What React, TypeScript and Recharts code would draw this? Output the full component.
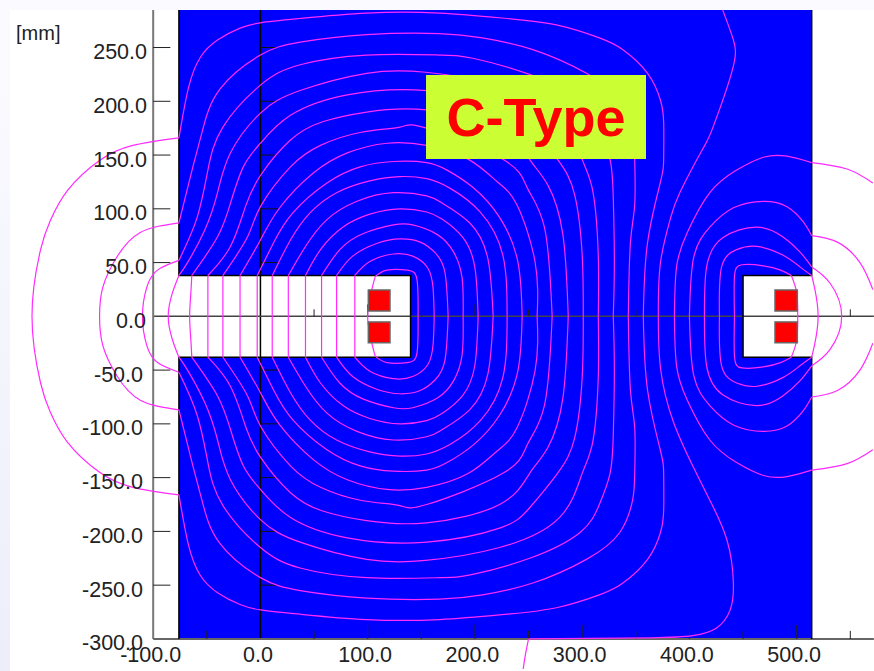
import { LineChart, Line, XAxis, YAxis, ReferenceArea, ReferenceLine } from 'recharts'

type Pt = number[]

const xTicks = [-100, 0, 100, 200, 300, 400, 500]
const yTicks = [250, 200, 150, 100, 50, 0, -50, -100, -150, -200, -250, -300]
const yMarks = [250, 200, 150, 100, 50, -50, -100, -150, -200, -250]
const bottomMinor = [-50, 50, 150, 250, 350, 450, 550]
const bottomMajor = [100, 200, 300, 400, 500]
const midMinor = [50, 150, 250, 350, 550]
const midMajor = [100, 200]

// field lines of the left loops, outer to inner (white part, then upper and lower part in the iron)
const loop1White: Pt[] = [[-76, 166], [-119, 159], [-150, 145], [-180, 117], [-196, 89], [-205, 62], [-213, 0], [-205, -62], [-196, -89], [-180, -117], [-150, -145], [-119, -159], [-76, -166]]
const loop1Top: Pt[] = [[-76, 166], [-67, 213], [-56, 241], [-40, 257], [-19, 268], [0, 273], [37, 277], [99, 282], [167, 282], [230, 277], [276, 271], [316, 259], [338, 248], [361, 226], [373, 201], [376, 180], [376, 148], [373, 125], [361, 69], [357, 0]]
const loop1Bottom: Pt[] = [[-76, -166], [-67, -213], [-56, -241], [-40, -257], [-19, -268], [0, -273], [37, -277], [99, -282], [167, -282], [230, -277], [276, -271], [316, -259], [338, -248], [361, -226], [373, -201], [376, -180], [376, -148], [373, -125], [361, -69], [357, 0]]
const loop2White: Pt[] = [[-76, 87], [-112, 78], [-134, 55], [-147, 27], [-150, 0], [-147, -27], [-134, -55], [-112, -78], [-76, -87]]
const loop2Top: Pt[] = [[-76, 87], [-63, 139], [-54, 173], [-38, 211], [0, 243], [37, 255], [99, 262], [167, 263], [207, 259], [254, 248], [304, 226], [335, 201], [347, 171], [349, 146], [349, 104], [345, 69], [343, 0]]
const loop2Bottom: Pt[] = [[-76, -87], [-63, -139], [-54, -173], [-38, -211], [0, -243], [37, -255], [99, -262], [167, -263], [207, -259], [254, -248], [304, -226], [335, -201], [347, -171], [349, -146], [349, -104], [345, -69], [343, 0]]
const loop3White: Pt[] = [[-76, 52], [-96, 43], [-106, 27], [-110, 0], [-106, -27], [-96, -43], [-76, -52]]
const loop3Top: Pt[] = [[-76, 52], [-59, 92], [-49, 136], [-35, 176], [0, 215], [37, 234], [99, 243], [167, 243], [198, 240], [251, 225], [298, 201], [316, 175], [326, 146], [329, 110], [330, 50], [329, 0]]
const loop3Bottom: Pt[] = [[-76, -52], [-59, -92], [-49, -136], [-35, -176], [0, -215], [37, -234], [99, -243], [167, -243], [198, -240], [251, -225], [298, -201], [316, -175], [326, -146], [329, -110], [330, -50], [329, 0]]
const loop4White: Pt[] = [[-76, 38], [-82, 22], [-86, 0], [-82, -22], [-76, -38]]
const loop4Top: Pt[] = [[-76, 38], [-68, 50], [-52, 80], [-40, 115], [-28, 152], [0, 189], [37, 210], [99, 226], [154, 227], [223, 215], [279, 187], [300, 146], [310, 116], [315, 57], [315, 0]]
const loop4Bottom: Pt[] = [[-76, -38], [-68, -50], [-52, -80], [-40, -115], [-28, -152], [0, -189], [37, -210], [99, -226], [154, -227], [223, -215], [279, -187], [300, -146], [310, -116], [315, -57], [315, 0]]
const loop5White: Pt[] = [[-64, 38], [-65, 20], [-66, 0], [-65, -20], [-64, -38]]
const loop5Top: Pt[] = [[-64, 38], [-40, 74], [-28, 105], [-16, 139], [0, 161], [28, 187], [81, 206], [155, 210], [223, 197], [251, 178], [277, 146], [293, 113], [300, 57], [301, 0]]
const loop5Bottom: Pt[] = [[-64, -38], [-40, -74], [-28, -105], [-16, -139], [0, -161], [28, -187], [81, -206], [155, -210], [223, -197], [251, -178], [277, -146], [293, -113], [300, -57], [301, 0]]
const loop6Top: Pt[] = [[-49, 38], [-28, 65], [-14, 102], [0, 131], [28, 164], [58, 181], [99, 190], [155, 192], [223, 175], [251, 146], [268, 122], [282, 76], [287, 0]]
const loop6Bottom: Pt[] = [[-49, -38], [-28, -65], [-14, -102], [0, -131], [28, -164], [58, -181], [99, -190], [155, -192], [223, -175], [251, -146], [268, -122], [282, -76], [287, 0]]
const loop7Top: Pt[] = [[-35, 38], [-12, 74], [0, 102], [28, 139], [56, 159], [93, 171], [130, 176], [155, 175], [226, 146], [249, 119], [265, 82], [272, 0]]
const loop7Bottom: Pt[] = [[-35, -38], [-12, -74], [0, -102], [28, -139], [56, -159], [93, -171], [130, -176], [155, -175], [226, -146], [249, -119], [265, -82], [272, 0]]
const loop8Top: Pt[] = [[-19, 38], [0, 71], [18, 101], [49, 133], [81, 152], [118, 161], [155, 159], [194, 146], [221, 125], [239, 104], [256, 51], [258, 0]]
const loop8Bottom: Pt[] = [[-19, -38], [0, -71], [18, -101], [49, -133], [81, -152], [118, -161], [155, -159], [194, -146], [221, -125], [239, -104], [256, -51], [258, 0]]
const loop9Top: Pt[] = [[-3, 38], [12, 68], [30, 96], [62, 124], [93, 139], [124, 144], [155, 143], [174, 136], [198, 120], [223, 92], [240, 51], [244, 0]]
const loop9Bottom: Pt[] = [[-3, -38], [12, -68], [30, -96], [62, -124], [93, -139], [124, -144], [155, -143], [174, -136], [198, -120], [223, -92], [240, -51], [244, 0]]
const loop10Top: Pt[] = [[11, 38], [28, 71], [46, 96], [71, 115], [102, 126], [130, 130], [155, 128], [177, 119], [205, 97], [226, 57], [230, 0]]
const loop10Bottom: Pt[] = [[11, -38], [28, -71], [46, -96], [71, -115], [102, -126], [130, -130], [155, -128], [177, -119], [205, -97], [226, -57], [230, 0]]
const loop11Top: Pt[] = [[26, 38], [42, 65], [62, 90], [90, 107], [124, 115], [155, 112], [170, 105], [195, 87], [212, 54], [217, 0]]
const loop11Bottom: Pt[] = [[26, -38], [42, -65], [62, -90], [90, -107], [124, -115], [155, -112], [170, -105], [195, -87], [212, -54], [217, 0]]
const loop12Top: Pt[] = [[42, 38], [56, 62], [77, 83], [102, 95], [130, 100], [155, 97], [170, 90], [189, 73], [200, 45], [203, 0]]
const loop12Bottom: Pt[] = [[42, -38], [56, -62], [77, -83], [102, -95], [130, -100], [155, -97], [170, -90], [189, -73], [200, -45], [203, 0]]
const loop13Top: Pt[] = [[57, 38], [74, 62], [96, 77], [124, 85], [142, 85], [165, 76], [180, 60], [188, 36], [189, 0]]
const loop13Bottom: Pt[] = [[57, -38], [74, -62], [96, -77], [124, -85], [142, -85], [165, -76], [180, -60], [188, -36], [189, 0]]
const loop14Top: Pt[] = [[71, 38], [86, 56], [109, 68], [130, 72], [149, 69], [163, 59], [172, 41], [175, 0]]
const loop14Bottom: Pt[] = [[71, -38], [86, -56], [109, -68], [130, -72], [149, -69], [163, -59], [172, -41], [175, 0]]
const loop15Top: Pt[] = [[88, 38], [102, 51], [124, 58], [142, 56], [156, 45], [161, 26], [162, 0]]
const loop15Bottom: Pt[] = [[88, -38], [102, -51], [124, -58], [142, -56], [156, -45], [161, -26], [162, 0]]
const loop16White: Pt[] = [[107, 37], [100, 0], [107, -37]]
const loop16Top: Pt[] = [[107, 37], [118, 43], [137, 43], [146, 34], [147, 0]]
const loop16Bottom: Pt[] = [[107, -37], [118, -43], [137, -43], [146, -34], [147, 0]]
const windowX = [-49, -35, -19, -3, 11, 26, 42, 57, 71, 88]

// field lines around the right coil
const lobeATop: Pt[] = [[442, 0], [442, 37], [449, 48], [469, 47], [485, 43], [495, 38]]
const lobeABottom: Pt[] = [[442, 0], [442, -37], [449, -48], [469, -47], [485, -43], [495, -38]]
const lobeAWhite: Pt[] = [[495, 38], [500, 22], [501, 0], [500, -22], [495, -38]]
const lobeBTop: Pt[] = [[428, 0], [430, 46], [444, 62], [463, 65], [487, 57], [503, 46], [514, 38]]
const lobeBBottom: Pt[] = [[428, 0], [430, -46], [444, -62], [463, -65], [487, -57], [503, -46], [514, -38]]
const lobeBWhite: Pt[] = [[514, 38], [517, 25], [520, 0], [517, -25], [514, -38]]
const lobeCTop: Pt[] = [[414, 0], [416, 46], [431, 73], [463, 83], [487, 74], [503, 60], [514, 46]]
const lobeCBottom: Pt[] = [[414, 0], [416, -46], [431, -73], [463, -83], [487, -74], [503, -60], [514, -46]]
const lobeCWhite: Pt[] = [[514, 46], [531, 31], [542, 0], [531, -31], [514, -46]]
const lobeDTop: Pt[] = [[400, 0], [404, 55], [419, 83], [441, 101], [469, 107], [491, 102], [506, 88], [514, 75]]
const lobeDBottom: Pt[] = [[400, 0], [404, -55], [419, -83], [441, -101], [469, -107], [491, -102], [506, -88], [514, -75]]
const lobeDWhiteTop: Pt[] = [[514, 75], [538, 69], [559, 50], [571, 25]]
const lobeDWhiteBottom: Pt[] = [[514, -75], [538, -69], [559, -50], [571, -25]]
const lobeETop: Pt[] = [[386, 0], [388, 46], [398, 78], [419, 115], [444, 136], [469, 148], [491, 149], [514, 143]]
const lobeEBottom: Pt[] = [[386, 0], [388, -46], [398, -78], [419, -115], [444, -136], [469, -148], [491, -149], [514, -143]]
const lobeEWhiteTop: Pt[] = [[514, 143], [547, 137], [571, 124]]
const lobeEWhiteBottom: Pt[] = [[514, -143], [547, -137], [571, -124]]
const splitTop: Pt[] = [[371, 0], [373, 50], [382, 90], [391, 115], [412, 155], [422, 176], [440, 229], [441, 257], [431, 285]]
const splitBottom: Pt[] = [[371, 0], [373, -48], [385, -98], [405, -143], [419, -171], [435, -208], [441, -248], [438, -273], [425, -290], [403, -297], [363, -299], [250, -300]]
const splitTail: Pt[] = [[250, -300], [247, -315], [245, -328]]

const outlineLeft: Pt[] = [[-76, 285], [-76, 38], [140, 38], [140, -38], [-76, -38], [-76, -300]]
const outlineRight: Pt[] = [[514, 285], [514, 38], [450, 38], [450, -38], [514, -38], [514, -300]]

const fieldLines: Pt[][] = [
  loop1White, loop1Top, loop1Bottom, loop2White, loop2Top, loop2Bottom, loop3White, loop3Top, loop3Bottom,
  loop4White, loop4Top, loop4Bottom, loop5White, loop5Top, loop5Bottom, loop6Top, loop6Bottom, loop7Top, loop7Bottom,
  loop8Top, loop8Bottom, loop9Top, loop9Bottom, loop10Top, loop10Bottom, loop11Top, loop11Bottom, loop12Top, loop12Bottom,
  loop13Top, loop13Bottom, loop14Top, loop14Bottom, loop15Top, loop15Bottom, loop16White, loop16Top, loop16Bottom,
  lobeATop, lobeABottom, lobeAWhite, lobeBTop, lobeBBottom, lobeBWhite, lobeCTop, lobeCBottom, lobeCWhite,
  lobeDTop, lobeDBottom, lobeDWhiteTop, lobeDWhiteBottom, lobeETop, lobeEBottom, lobeEWhiteTop, lobeEWhiteBottom,
  splitTop, splitBottom, splitTail,
  ...windowX.map((x) => [[x, 38], [x, 0], [x, -38]]),
]

const coilX = [[100.6, 120.8], [479.8, 500.6]]
const coilY = [[5, 24.5], [-24.5, -5.2]]

const toRows = (pts: Pt[]) => pts.map(([x, y]) => ({ x, y }))
const FONT = '"Liberation Sans", Arial, sans-serif'
const MAGENTA = '#ff2bff'

function XLabel({ x, payload }: any) {
  return (
    <text x={x - 2.5} y={662} textAnchor="middle" fontFamily={FONT} fontSize={21.5} fill="#222">
      {payload.value.toFixed(1)}
    </text>
  )
}

function YLabel({ y, payload }: any) {
  const right = payload.value < 0 ? 143 : payload.value === 0 ? 146 : 147
  return (
    <text x={right} y={y + 11.5} textAnchor="end" fontFamily={FONT} fontSize={21.5} fill="#222">
      {payload.value.toFixed(1)}
    </text>
  )
}

export default function App() {
  return (
    <div style={{ position: 'absolute', left: 0, top: 0, width: 874, height: 671, overflow: 'hidden', background: 'linear-gradient(#fbfbff, #eeeefb)' }}>
      <div style={{ position: 'absolute', left: 10, top: 10, width: 864, height: 661, background: '#fff' }} />
      <div style={{ position: 'absolute', left: 16, top: 20, fontFamily: FONT, fontSize: 20, lineHeight: '26px', color: '#222' }}>[mm]</div>
      <div style={{ position: 'absolute', left: 0, top: 0 }}>
        <LineChart width={874} height={671} margin={{ top: 0, right: 0, bottom: 0, left: 0 }}>
          <XAxis
            type="number"
            dataKey="x"
            domain={[-241.9, 572.1]}
            allowDataOverflow
            ticks={xTicks}
            interval={0}
            height={1}
            axisLine={false}
            tickLine={false}
            tick={<XLabel />}
          />
          <YAxis
            type="number"
            domain={[-328.9, 294.2]}
            allowDataOverflow
            ticks={yTicks}
            interval={0}
            width={1}
            axisLine={false}
            tickLine={false}
            tick={<YLabel />}
          />

          <ReferenceArea x1={-76} x2={514} y1={38} y2={285} fill="#0000ff" fillOpacity={1} stroke="none" />
          <ReferenceArea x1={-76} x2={514} y1={-300} y2={-38} fill="#0000ff" fillOpacity={1} stroke="none" />
          <ReferenceArea x1={140} x2={450} y1={-40} y2={40} fill="#0000ff" fillOpacity={1} stroke="none" />

          <ReferenceLine segment={[{ x: 0, y: -300 }, { x: 0, y: 285 }]} stroke="#000" strokeWidth={1.5} />
          <ReferenceLine segment={[{ x: -100, y: 0 }, { x: 572, y: 0 }]} stroke="#444" strokeWidth={1.5} />
          <ReferenceLine segment={[{ x: -100, y: -300 }, { x: -100, y: 285 }]} stroke="#777" strokeWidth={2} />
          <ReferenceLine segment={[{ x: -100, y: -300 }, { x: 572, y: -300 }]} stroke="#666" strokeWidth={2} />
          {yMarks.map((v) => (
            <ReferenceLine key={`l${v}`} segment={[{ x: -100, y: v }, { x: -84, y: v }]} stroke="#222" />
          ))}
          {yMarks.map((v) => (
            <ReferenceLine key={`m${v}`} segment={[{ x: 0, y: v }, { x: 16, y: v }]} stroke="#111" />
          ))}
          {bottomMinor.map((v) => (
            <ReferenceLine key={`b${v}`} segment={[{ x: v, y: -300 }, { x: v, y: -292.5 }]} stroke="#222" />
          ))}
          {bottomMajor.map((v) => (
            <ReferenceLine key={`B${v}`} segment={[{ x: v, y: -300 }, { x: v, y: -287 }]} stroke="#222" />
          ))}
          {midMinor.map((v) => (
            <ReferenceLine key={`c${v}`} segment={[{ x: v, y: 0 }, { x: v, y: 6.5 }]} stroke="#222" />
          ))}
          {midMajor.map((v) => (
            <ReferenceLine key={`C${v}`} segment={[{ x: v, y: 0 }, { x: v, y: 11 }]} stroke="#222" />
          ))}

          <Line data={toRows(outlineLeft)} dataKey="y" type="linear" stroke="#000" strokeWidth={1.5} dot={false} activeDot={false} isAnimationActive={false} />
          <Line data={toRows(outlineRight)} dataKey="y" type="linear" stroke="#000" strokeWidth={1.5} dot={false} activeDot={false} isAnimationActive={false} />
          {fieldLines.map((pts, i) => (
            <Line
              key={i}
              data={toRows(pts)}
              dataKey="y"
              type="natural"
              stroke={MAGENTA}
              strokeWidth={1.2}
              dot={false}
              activeDot={false}
              isAnimationActive={false}
            />
          ))}

          {coilX.flatMap((xs) =>
            coilY.map((ys) => (
              <ReferenceArea
                key={`${xs[0]}${ys[0]}`}
                x1={xs[0]}
                x2={xs[1]}
                y1={ys[0]}
                y2={ys[1]}
                fill="#ff0000"
                fillOpacity={1}
                stroke="#666"
                strokeWidth={1.5}
                zIndex={1000}
              />
            )),
          )}
          <ReferenceArea
            x1={154.4}
            x2={359.5}
            y1={146.3}
            y2={224.4}
            fill="#ccff33"
            fillOpacity={1}
            stroke="none"
            zIndex={1000}
            label={{ value: 'C-Type', position: 'center', fill: '#ff0000', fontSize: 54, fontWeight: 700, fontFamily: FONT }}
          />
        </LineChart>
      </div>
    </div>
  )
}
